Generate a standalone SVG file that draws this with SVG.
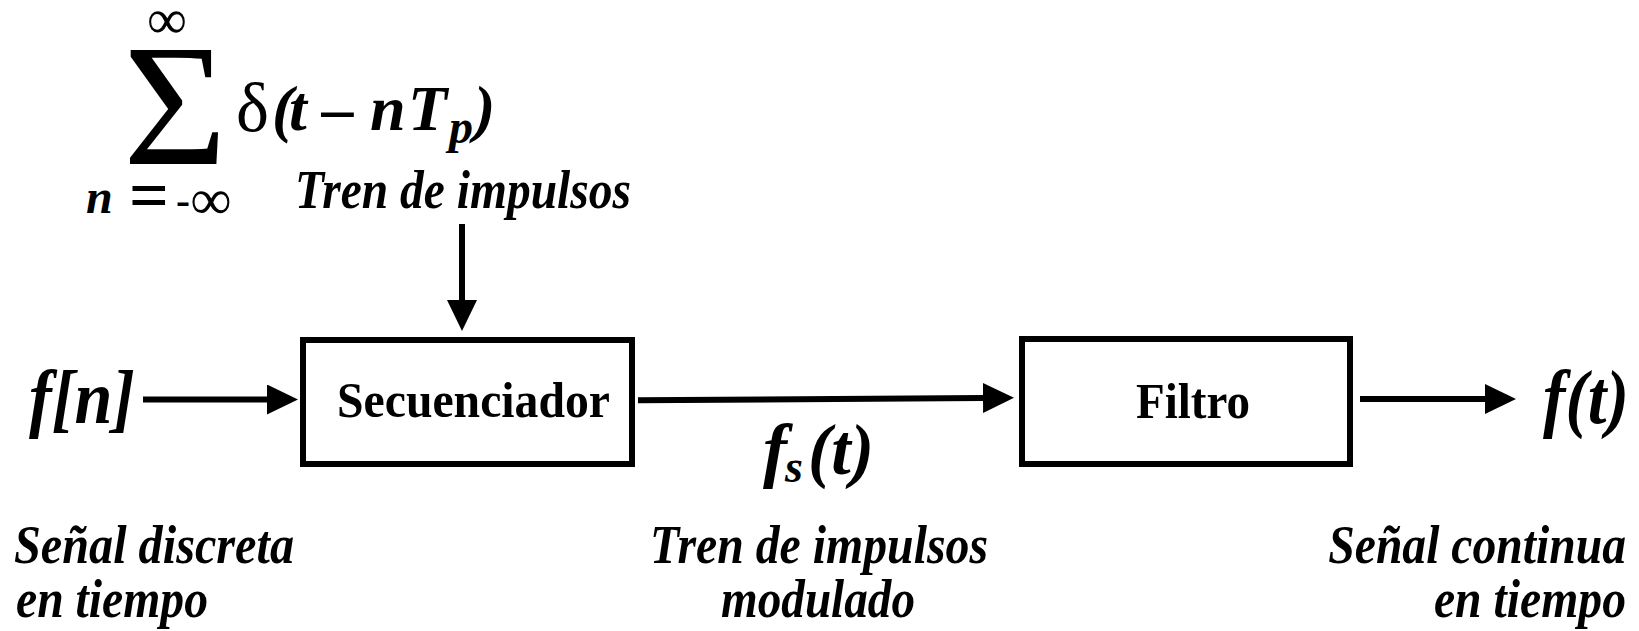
<svg xmlns="http://www.w3.org/2000/svg" width="1639" height="631" viewBox="0 0 1639 631">
  <style>
    text { font-family: "Liberation Serif", "Times New Roman", serif; fill: #000; }
    .bi { font-weight: bold; font-style: italic; }
    .b { font-weight: bold; }
    .lbl { font-weight: bold; font-style: italic; font-size: 55px; }
    .box { fill: #fff; stroke: #000; stroke-width: 6; }
    .wire { fill: none; stroke: #000; stroke-width: 6; }
  </style>
  <defs>
    <marker id="head" markerUnits="userSpaceOnUse" markerWidth="32" markerHeight="32" refX="0" refY="15" orient="auto">
      <path d="M0,0 L31,15 L0,30 Z" fill="#000"/>
    </marker>
  </defs>

  <!-- impulse train expression -->
  <g id="formula">
    <text x="167" y="38" font-size="56" text-anchor="middle">∞</text>
    <text x="123" y="164" font-size="173" textLength="104" lengthAdjust="spacingAndGlyphs">Σ</text>
    <text x="236" y="131" font-size="70">δ</text>
    <text class="bi" y="130" font-size="64"><tspan x="272">(</tspan><tspan x="289">t</tspan><tspan x="322">–</tspan><tspan x="370">n</tspan><tspan x="408">T</tspan></text>
    <text class="bi" x="449" y="143" font-size="48">p</text>
    <text class="bi" x="474" y="130" font-size="64">)</text>
    <text class="bi" x="86" y="213" font-size="48">n</text>
    <text class="b" x="149" y="219" font-size="70" text-anchor="middle">=</text>
    <text class="b" x="176" y="214" font-size="42">-</text>
    <text x="211" y="219" font-size="58" text-anchor="middle">∞</text>
  </g>
  <g id="label-impulse-train">
    <text class="lbl" x="295" y="208" textLength="336" lengthAdjust="spacingAndGlyphs">Tren de impulsos</text>
  </g>

  <!-- input signal -->
  <g id="input">
    <text class="bi" x="29" y="423" font-size="76" textLength="106" lengthAdjust="spacingAndGlyphs">f[n]</text>
  </g>

  <!-- sequencer block -->
  <g id="secuenciador">
    <rect class="box" x="303" y="340" width="329" height="124"/>
    <text class="b" x="337" y="417" font-size="50" textLength="273" lengthAdjust="spacingAndGlyphs">Secuenciador</text>
  </g>

  <!-- modulated train label -->
  <g id="fs">
    <text class="bi" x="763" y="474" font-size="72">f</text>
    <text class="bi" x="785" y="482" font-size="46">s</text>
    <text class="bi" x="808" y="474" font-size="72" textLength="66" lengthAdjust="spacingAndGlyphs">(t)</text>
  </g>

  <!-- filter block -->
  <g id="filtro">
    <rect class="box" x="1022" y="339" width="328" height="125"/>
    <text class="b" x="1136" y="418" font-size="50" textLength="114" lengthAdjust="spacingAndGlyphs">Filtro</text>
  </g>

  <!-- output signal -->
  <g id="output">
    <text class="bi" x="1543" y="423" font-size="76" textLength="86" lengthAdjust="spacingAndGlyphs">f(t)</text>
  </g>

  <!-- captions -->
  <g id="caption-discrete">
    <text class="lbl" x="14" y="563" textLength="280" lengthAdjust="spacingAndGlyphs">Señal discreta</text>
    <text class="lbl" x="16" y="617" textLength="192" lengthAdjust="spacingAndGlyphs">en tiempo</text>
  </g>
  <g id="caption-modulated">
    <text class="lbl" x="650" y="563" textLength="338" lengthAdjust="spacingAndGlyphs">Tren de impulsos</text>
    <text class="lbl" x="721" y="617" textLength="194" lengthAdjust="spacingAndGlyphs">modulado</text>
  </g>
  <g id="caption-continuous">
    <text class="lbl" text-anchor="end" transform="translate(1626,563) scale(0.866,1)">Señal continua</text>
    <text class="lbl" text-anchor="end" transform="translate(1626,617) scale(0.867,1)">en tiempo</text>
  </g>

  <!-- connectors -->
  <g id="connectors">
    <line class="wire" x1="143" y1="399.5" x2="267" y2="399.5" marker-end="url(#head)"/>
    <line class="wire" x1="462" y1="224" x2="462" y2="300" marker-end="url(#head)"/>
    <line class="wire" x1="638" y1="400.3" x2="983" y2="398" marker-end="url(#head)"/>
    <line class="wire" x1="1360" y1="399" x2="1485" y2="399" marker-end="url(#head)"/>
  </g>
</svg>
